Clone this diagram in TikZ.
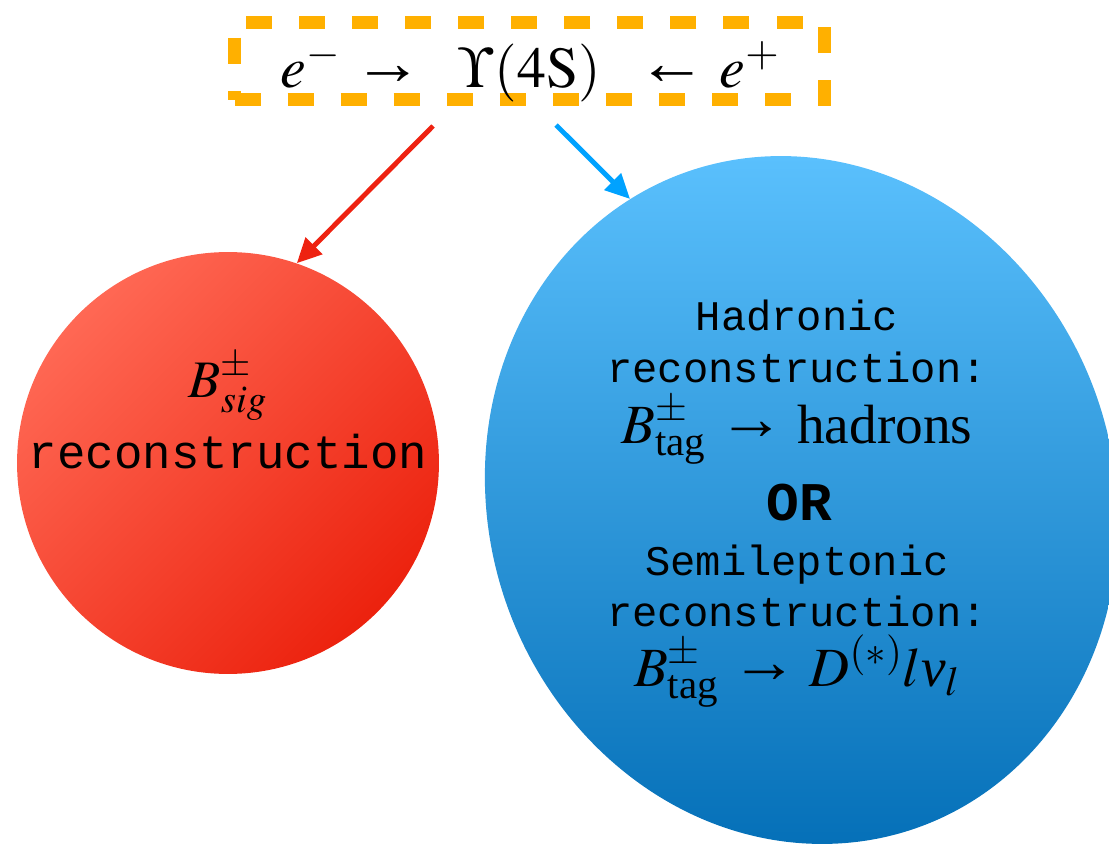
\documentclass[tikz,border=0pt]{standalone}
\usepackage{amsmath}
\usepackage{mathptmx}
\usepackage{fontspec}
\setmainfont{Liberation Serif}
\setmonofont{Liberation Mono}
\usetikzlibrary{arrows.meta, shapes.geometric}

\definecolor{sigLight}{RGB}{255,104,84}
\definecolor{sigDark}{RGB}{236,34,14}
\definecolor{tagTop}{RGB}{90,192,253}
\definecolor{tagBot}{RGB}{5,112,184}
\definecolor{sigArrow}{RGB}{238,34,17}
\definecolor{tagArrow}{RGB}{0,162,255}
\definecolor{ysOrange}{RGB}{255,176,0}

% Times-like arrows and nu, taken from the text font
\newcommand{\tto}{\mathrel{\text{\raisebox{0.06em}{\scalebox{1.2}[1.1]{\symbol{"2192}}}}}}
\newcommand{\tfrom}{\mathrel{\text{\raisebox{0.06em}{\scalebox{1.2}[1.1]{\symbol{"2190}}}}}}
\newcommand{\tnu}{\text{\itshape\symbol{"03BD}}}

\begin{document}
\begin{tikzpicture}[
  x=0.02cm, y=-0.02cm,
  ysbox/.style={draw=ysOrange, line width=7.4pt,
                dash pattern=on 14.8pt off 15.4pt,
                minimum width=11.8cm, minimum height=1.56cm, inner sep=0pt},
  sigball/.style={circle, minimum size=8.44cm, inner sep=0pt,
                  top color=sigLight, bottom color=sigDark, shading angle=45},
  tagball/.style={ellipse, minimum width=12.64cm, minimum height=13.76cm,
                  inner sep=0pt, top color=tagTop, bottom color=tagBot},
  decay/.style={-{Triangle[length=14pt,width=13pt]}, line width=2.8pt},
  ttline/.style={anchor=base, inner sep=0pt, font=\ttfamily\fontsize{24}{28}\selectfont},
  mline/.style={anchor=base, inner sep=0pt, font=\fontsize{31.5}{38}\selectfont},
]

% --- page frame ---
\useasboundingbox (0,0) rectangle (1109,851);
\clip (0,0) rectangle (1109,851);

% --- production ---
\node[ysbox] (ups) at (529.5,61) {};
\node[anchor=base, inner sep=0pt, font=\fontsize{33}{40}\selectfont]
  (upstxt) at (530,88)
  {$e^{-}\tto\hspace{0.4em}\Upsilon(4\mathrm{S})\hspace{0.4em}\tfrom e^{+}$};

% =========================================================
% signal side
% =========================================================
\node[sigball] (sig) at (228,463) {};
\node[anchor=base, inner sep=0pt, font=\fontsize{30}{36}\selectfont]
  (sigB) at (228,397) {$B^{\pm}_{sig}$};
\node[ttline, font=\ttfamily\fontsize{27}{32}\selectfont]
  (sigrec) at (228,468) {reconstruction};

% =========================================================
% tag side
% =========================================================
\node[tagball, xslant=-0.06] (tag) at (801.5,500) {};
\node[ttline] (had)   at (797,331) {Hadronic};
\node[ttline, text depth=0pt] (hrec) at (797,382) {reconstruction:};
\node[mline]  (hdec)  at (797,443) {$B^{\pm}_{\text{tag}}\tto\text{hadrons}$};
\node[ttline, font=\ttfamily\bfseries\fontsize{31}{36}\selectfont]
              (or)    at (799,520) {OR};
\node[ttline] (semi)  at (797,575) {Semileptonic};
\node[ttline, text depth=0pt] (srec) at (797,626) {reconstruction:};
\node[mline]  (sdec)  at (797,686) {$B^{\pm}_{\text{tag}}\tto D^{(*)}l\tnu_{l}$};

% --- arrows ---
\coordinate (sigtail) at (433,126);
\coordinate (tagtail) at (556,125);
\draw[decay, draw=sigArrow, fill=sigArrow] (sigtail) -- (sig.71);
\draw[decay, draw=tagArrow, fill=tagArrow] (tagtail) -- (tag.117);

\end{tikzpicture}
\end{document}
